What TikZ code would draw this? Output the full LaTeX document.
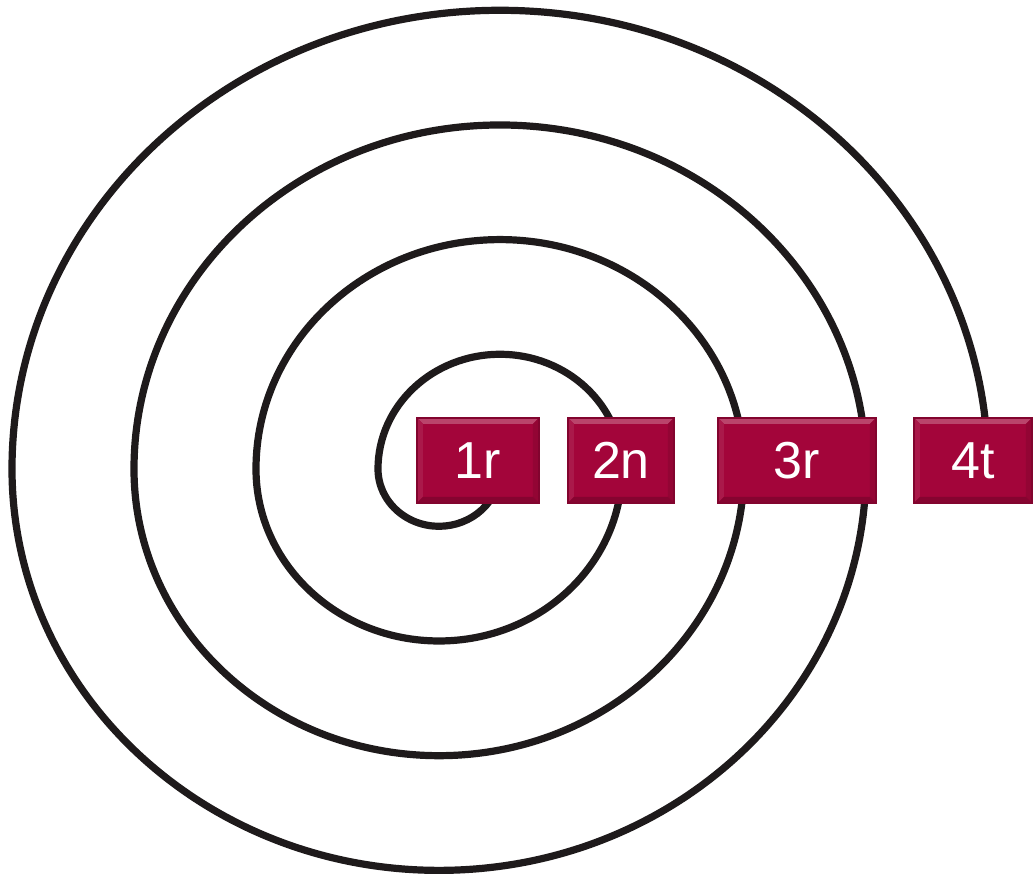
\documentclass[tikz,border=0pt]{standalone}
\usepackage{fontspec}
\newfontfamily\labelfont{Liberation Sans}
\usetikzlibrary{positioning}
\definecolor{ink}{HTML}{1E1A1B}
\definecolor{tagred}{HTML}{A3053A}

\tikzset{
  spiral/.style={ink,line width=2.05pt,line cap=round},
  tag/.style={fill=tagred,draw=tagred!80!black,line width=.3pt,
    minimum height=.85cm,inner sep=0pt,text=white,
    font=\labelfont\fontsize{14.8}{17}\selectfont,
    path picture={
      \fill[tagred!75!white] (path picture bounding box.north west) -- (path picture bounding box.north east)
        -- ([xshift=-.6mm,yshift=-.6mm]path picture bounding box.north east) -- ([xshift=.6mm,yshift=-.6mm]path picture bounding box.north west) -- cycle;
      \fill[tagred!92!white] (path picture bounding box.north west) -- ([xshift=.6mm,yshift=-.6mm]path picture bounding box.north west)
        -- ([xshift=.6mm,yshift=.6mm]path picture bounding box.south west) -- (path picture bounding box.south west) -- cycle;
      \fill[tagred!90!black] (path picture bounding box.north east) -- ([xshift=-.6mm,yshift=-.6mm]path picture bounding box.north east)
        -- ([xshift=-.6mm,yshift=.6mm]path picture bounding box.south east) -- (path picture bounding box.south east) -- cycle;
      \fill[tagred!82!black] (path picture bounding box.south west) -- (path picture bounding box.south east)
        -- ([xshift=-.6mm,yshift=.6mm]path picture bounding box.south east) -- ([xshift=.6mm,yshift=.6mm]path picture bounding box.south west) -- cycle;
    }}
}

\begin{document}
\begin{tikzpicture}
\useasboundingbox (0,0) rectangle (10.35,8.78);
% spiral: half ellipses round two centres
\coordinate (cl) at (4.39,4.09);
\coordinate (cr) at (5.00,4.09);
\draw[spiral] (cl) ++(-28:0.61 and 0.573)
  arc[start angle=-28,end angle=-180,x radius=0.61,y radius=0.573]
  arc[start angle=180,end angle=0,x radius=1.22,y radius=1.147]
  arc[start angle=0,end angle=-180,x radius=1.83,y radius=1.720]
  arc[start angle=180,end angle=0,x radius=2.44,y radius=2.294]
  arc[start angle=0,end angle=-180,x radius=3.05,y radius=2.867]
  arc[start angle=180,end angle=0,x radius=3.66,y radius=3.440]
  arc[start angle=0,end angle=-180,x radius=4.27,y radius=4.014]
  arc[start angle=180,end angle=0,x radius=4.88,y radius=4.587];
% labels on the turns
\node[tag,minimum width=1.22cm] (first) at (4.78,4.175) {1r};
\node[tag,minimum width=1.06cm] (second) at (6.21,4.175) {2n};
\node[tag,minimum width=1.58cm] (third) at (7.97,4.175) {3r};
\node[tag,minimum width=1.18cm] (fourth) at (9.73,4.175) {4t};
\end{tikzpicture}
\end{document}
